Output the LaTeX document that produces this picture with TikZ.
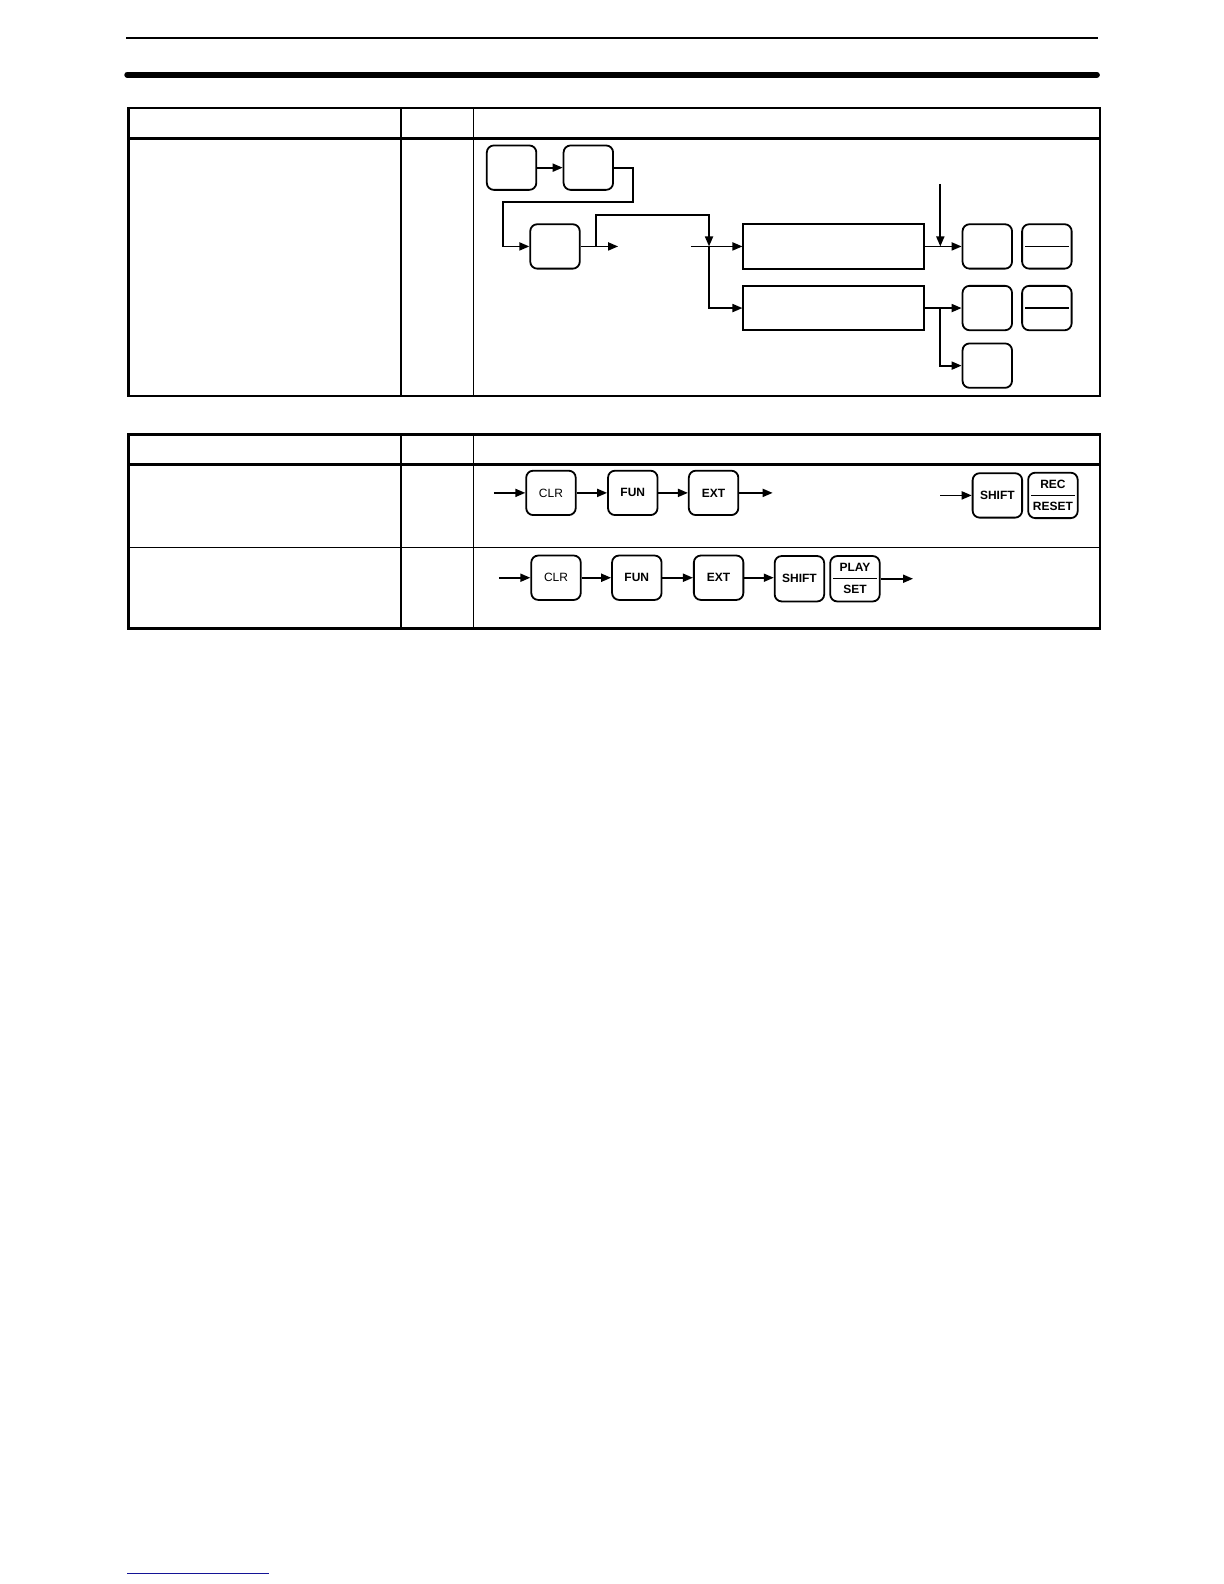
\documentclass[tikz,border=0pt]{standalone}
\usepackage{fontspec}
\setmainfont{Liberation Sans}
\usetikzlibrary{arrows.meta}
\definecolor{navy}{RGB}{20,20,150}
\tikzset{
  keybox/.style={draw, line width=0.9pt, rounded corners=3.5pt, minimum width=24.75pt, minimum height=22.2pt, inner sep=0pt, font=\fontsize{6}{11}\selectfont\bfseries, align=center},
  plainkey/.style={keybox, font=\fontsize{6}{11}\selectfont},
  fracline/.style={keybox, path picture={\draw[line width=0.6pt] ([xshift=1.5pt]path picture bounding box.west) -- ([xshift=-1.5pt]path picture bounding box.east);}},
  wide/.style={draw, line width=0.9pt, minimum width=90.4pt, minimum height=22.2pt, inner sep=0pt},
  conn/.style={line width=0.9pt, -{Triangle[length=5pt,width=4pt]}},
  outer/.style={line width=1.4pt},
  inner/.style={line width=0.6pt}
}
\begin{document}
\begin{tikzpicture}[x=0.505pt,y=-0.505pt]
\useasboundingbox (0pt,0pt) rectangle (612pt,-792pt);
% page rules
\draw[line width=1pt] (125,38) -- (1087,38);
\draw[line width=3pt, line cap=round] (126,74) -- (1086,74);
% table 1
\draw[outer] (127,107) rectangle (1089,392);
\draw[outer] (127,137) -- (1089,137);
\draw[inner] (397,107) -- (397,392);
\draw[inner] (469,107) -- (469,392);
% table 2
\draw[outer] (127,430) rectangle (1089,622);
\draw[outer] (127,460) -- (1089,460);
\draw[line width=0.8pt] (127,542) -- (1089,542);
\draw[inner] (397,430) -- (397,622);
\draw[inner] (469,430) -- (469,622);
% footer line
\draw[navy, line width=0.7pt] (126,1558) -- (266,1558);

% diagram 1
\node[keybox] (A) at (506.5,166) {};
\node[keybox] (B) at (582.5,166) {};
\node[keybox] (C) at (549.5,244) {};
\node[wide] (D) at (825.5,244) {};
\node[wide] (E) at (825.5,305) {};
\node[keybox] (F) at (977.5,244) {};
\node[fracline] (G) at (1036.5,244) {};
\node[keybox] (H) at (977.5,305) {};
\node[fracline] (I) at (1036.5,305) {};
\node[keybox] (J) at (977.5,362) {};
\coordinate (c1) at (612,244);
\coordinate (s1) at (590,244);
\coordinate (j1) at (702,244);
\coordinate (in1) at (684,244);
\coordinate (t1) at (931,182);
\coordinate (j2) at (931,244);
\coordinate (j3) at (931,305);
\draw[conn] (A) -- (B);
\draw[conn] (B.east) -| (627,200) -| ([xshift=-13pt]C.west) -- (C.west);
\draw[conn] (C.east) -- (c1);
\draw[conn] (s1) -- (590,213) -| (j1);
\draw[conn] (in1) -- (D.west);
\draw[conn] (j1) |- (E.west);
\draw[conn] (D.east) -- (F.west);
\draw[conn] (t1) -- (j2);
\draw[conn] (E.east) -- (H.west);
\draw[conn] (j3) |- (J.west);

% table 2 row 1
\coordinate (r1s) at (489,488);
\node[plainkey] (r1clr) at (545.5,488) {CLR};
\node[keybox] (r1fun) at (626.5,488) {FUN};
\node[keybox] (r1ext) at (706.5,488) {EXT};
\coordinate (r1e) at (765,488);
\draw[conn] (r1s) -- (r1clr);
\draw[conn] (r1clr) -- (r1fun);
\draw[conn] (r1fun) -- (r1ext);
\draw[conn] (r1ext) -- (r1e);
\coordinate (r1s2) at (931,490.5);
\node[keybox] (r1sh) at (987.5,490.5) {SHIFT};
\node[fracline, minimum height=22.7pt] (r1rec) at (1042.5,490.5) {REC\\RESET};
\draw[conn] (r1s2) -- (r1sh);

% table 2 row 2
\coordinate (r2s) at (494,572);
\node[plainkey] (r2clr) at (550.5,572) {CLR};
\node[keybox] (r2fun) at (630.5,572) {FUN};
\node[keybox] (r2ext) at (711.5,572) {EXT};
\node[keybox, minimum height=22.7pt] (r2sh) at (791.5,573) {SHIFT};
\node[fracline, minimum height=22.7pt] (r2play) at (846.5,573) {PLAY\\SET};
\coordinate (r2e) at (904,573);
\draw[conn] (r2s) -- (r2clr);
\draw[conn] (r2clr) -- (r2fun);
\draw[conn] (r2fun) -- (r2ext);
\draw[conn] (r2ext) -- (r2ext -| r2sh.west);
\draw[conn] (r2play) -- (r2e);
\end{tikzpicture}
\end{document}
